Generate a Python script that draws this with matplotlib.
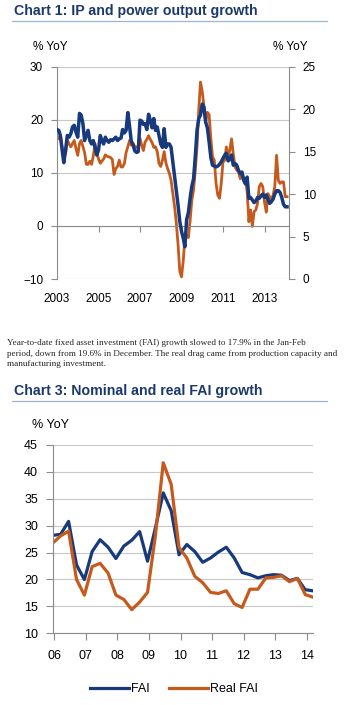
import matplotlib
matplotlib.use('Agg')
import matplotlib.pyplot as plt
import matplotlib.dates as mdates
from matplotlib.lines import Line2D
from datetime import datetime
import pandas as pd

plt.rcParams['font.family'] = 'Liberation Sans'

NAVY = '#1b3a6b'
BLUE = '#163a7d'
ORANGE = '#c55a1c'
GRID = '#c8c8c8'
AXIS = '#8c8c8c'

# Chart 1 - monthly % yoy, Jan 2003 .. Feb 2014
ip_growth = [  # right axis
    17.6, 17.5, 16.9, 15.2, 13.7, 15.2, 16.9, 16.7, 17.1, 17.9, 18.1, 17.3,
    16.7, 19.5, 19.3, 18.3, 16.3, 16.9, 17.5, 16.3, 15.9, 16.3, 15.5, 14.6,
    15.2, 16.9, 16.3, 15.9, 16.7, 16.3, 16.1, 16.4, 16.3, 16.5, 16.7, 16.3,
    16.5, 16.6, 17.6, 17.2, 17.5, 19.6, 18.0, 16.2, 15.8, 15.1, 14.9, 15.0,
    18.7, 18.6, 18.2, 18.3, 17.6, 19.4, 18.7, 17.8, 18.9, 17.5, 17.9, 16.9,
    15.9, 15.5, 17.7, 15.5, 15.9, 15.9, 15.5, 13.8, 12.0, 10.5, 8.7, 6.8,
    5.6, 4.8, 3.8, 7.0, 7.8, 9.5, 10.9, 11.8, 14.5, 17.5, 18.9, 19.3,
    20.6, 20.2, 18.5, 17.8, 16.2, 14.3, 13.4, 13.3, 13.2, 13.3, 13.5, 13.8,
    14.2, 14.6, 14.8, 13.9, 14.1, 14.6, 13.4, 13.6, 13.4, 12.8, 12.4, 12.6,
    11.6, 11.2, 12.0, 9.5, 9.6, 9.3, 9.0, 9.2, 9.6, 9.5, 9.8, 10.0,
    9.6, 9.9, 9.4, 8.9, 9.1, 9.4, 10.0, 10.4, 10.4, 10.2, 9.6, 8.8,
    8.5, 8.5,
]
power_growth = [  # left axis
    16.75, 16.4, 17.1, 14.9, 13.0, 13.6, 16.1, 15.5, 14.9, 15.5, 16.1, 14.6,
    13.3, 15.5, 16.1, 15.0, 13.8, 11.6, 11.6, 12.2, 11.6, 13.2, 15.5, 13.8,
    12.6, 11.8, 12.2, 12.6, 13.4, 13.1, 13.0, 12.9, 12.5, 9.7, 10.8, 11.2,
    12.4, 11.1, 11.1, 11.75, 13.8, 14.9, 16.1, 15.2, 15.6, 14.9, 14.9, 14.6,
    16.5, 15.2, 14.2, 15.8, 16.3, 17.0, 16.3, 15.7, 14.8, 14.9, 14.0, 11.8,
    11.2, 12.4, 14.0, 11.9, 10.8, 9.9, 8.6, 6.1, 3.6, 0.6, -3.5, -8.5,
    -9.6, -6.5, -2.2, -1.8, -2.2, 1.0, 4.8, 6.8, 10.5, 15.0, 22.0, 27.1,
    25.3, 22.4, 19.5, 21.4, 21.0, 16.5, 13.0, 12.4, 8.0, 5.8, 5.2, 8.0,
    12.0, 12.4, 14.9, 13.0, 14.3, 16.4, 13.6, 11.1, 10.5, 10.2, 8.9, 9.9,
    8.9, 8.6, 6.5, 0.8, 3.0, -0.1, 2.7, 3.0, 4.3, 7.4, 8.0, 7.4,
    4.5, 2.6, 6.1, 5.5, 4.9, 5.8, 7.4, 13.3, 8.6, 8.0, 8.3, 8.3,
    5.5, 5.5,
]
months = pd.date_range('2003-01-01', periods=len(ip_growth), freq='MS')

# Chart 3 - quarterly % yoy
fai_growth = [
    28.2, 28.4, 30.8, 22.7, 20.0, 25.2, 27.4, 26.0, 23.9, 26.2, 27.3, 28.9,
    23.4, 29.5, 36.1, 32.8, 24.6, 26.5, 25.2, 23.2, 24.0, 25.1, 26.0, 24.0,
    21.3, 20.9, 20.3, 20.7, 20.9, 20.8, 19.8, 20.2, 18.1, 17.9,
]
real_fai_growth = [
    26.8, 28.1, 29.0, 20.0, 17.1, 22.4, 23.0, 21.2, 17.1, 16.3, 14.4, 15.8,
    17.6, 28.0, 41.7, 37.7, 25.9, 24.0, 20.6, 19.4, 17.6, 17.4, 17.9, 15.5,
    14.8, 18.2, 18.2, 20.3, 20.4, 20.7, 19.6, 20.2, 17.2, 16.7,
]
quarters = pd.date_range('2005-12-15', periods=len(fai_growth),
                         freq=pd.DateOffset(months=3))

fig = plt.figure(figsize=(3.49, 7.05), dpi=100)
W, H = 349.0, 705.0


def fx(px):
    return px / W


def fy(py):
    return 1 - py / H


def header(text, base_y, line_y):
    fig.text(fx(14), fy(base_y), text, fontsize=10.2, fontweight='bold',
             color=NAVY, va='baseline')
    fig.add_artist(Line2D([fx(12), fx(327)], [fy(line_y)] * 2,
                          color='#9fb4cf', lw=0.9))


def style_spine(ax, sides):
    for s in ['top', 'bottom', 'left', 'right']:
        ax.spines[s].set_visible(s in sides)
        ax.spines[s].set_color(AXIS)
        ax.spines[s].set_linewidth(0.8)


# ---------------- chart 1 ----------------
header('Chart 1: IP and power output growth', 15, 20.5)
fig.text(fx(33), fy(50), '% YoY', fontsize=8.5, va='baseline')
fig.text(fx(273), fy(50), '% YoY', fontsize=8.5, va='baseline')

ax1 = fig.add_axes([fx(57), fy(279), 232 / W, 212.3 / H])
ax1.plot(months, power_growth, color=ORANGE, lw=2.0, solid_joinstyle='round')
ax1.set_ylim(-10, 30)
ax1.set_yticks(range(-10, 31, 10))
ax1.set_xlim(datetime(2003, 1, 1), datetime(2014, 3, 8))
ax1.grid(axis='y', color=GRID, lw=0.8)
ax1.set_axisbelow(True)
style_spine(ax1, ['left', 'bottom'])
ax1.spines['bottom'].set_position(('data', 0))
year_ticks = [datetime(y, 1, 1) for y in range(2003, 2014, 2)]
ax1.set_xticks(year_ticks)
ax1.tick_params(axis='x', length=4, color=AXIS, labelbottom=False)
ax1.tick_params(axis='y', length=4, color=AXIS, pad=6, labelsize=8.5)

lab = ax1.secondary_xaxis(0.0)
lab.set_xticks(year_ticks)
lab.xaxis.set_major_formatter(mdates.DateFormatter('%Y'))
lab.tick_params(length=0, pad=10, labelsize=8.5)
lab.spines['bottom'].set_visible(False)

ax2 = ax1.twinx()
ax2.plot(months, ip_growth, color=BLUE, lw=2.5, solid_joinstyle='round')
ax2.set_ylim(0, 25)
ax2.set_yticks(range(0, 26, 5))
style_spine(ax2, ['right'])
ax2.tick_params(axis='y', length=4, color=AXIS, pad=6, labelsize=8.5)

# ---------------- commentary ----------------
note = [
    'Year-to-date fixed asset investment (FAI) growth slowed to 17.9% in the Jan-Feb',
    'period, down from 19.6% in December. The real drag came from production capacity and',
    'manufacturing investment.',
]
for i, line in enumerate(note):
    fig.text(fx(7), fy(345 + 10.6 * i), line, fontsize=6.55,
             family='Liberation Serif', color='#222222', va='baseline')

# ---------------- chart 3 ----------------
header('Chart 3: Nominal and real FAI growth', 395, 400.7)
fig.text(fx(31.5), fy(428), '% YoY', fontsize=9, va='baseline')

ax3 = fig.add_axes([fx(53.3), fy(633.3), 259.7 / W, 188.3 / H])
ax3.plot(quarters, fai_growth, color=BLUE, lw=2.3, label='FAI',
         solid_joinstyle='round')
ax3.plot(quarters, real_fai_growth, color=ORANGE, lw=2.3, label='Real FAI',
         solid_joinstyle='round')
ax3.set_ylim(10, 45)
ax3.set_yticks(range(10, 46, 5))
ax3.set_xlim(datetime(2005, 12, 20), datetime(2014, 3, 15))
ax3.xaxis.set_major_locator(mdates.YearLocator())
ax3.xaxis.set_major_formatter(mdates.DateFormatter('%y'))
ax3.grid(axis='y', color=GRID, lw=0.8)
ax3.set_axisbelow(True)
style_spine(ax3, ['left', 'bottom'])
ax3.tick_params(axis='both', length=5, color=AXIS, labelsize=9)
ax3.tick_params(axis='y', pad=6)
ax3.tick_params(axis='x', pad=7)

fig.legend(handles=ax3.get_lines(), loc='center', bbox_to_anchor=(fx(174), fy(689)),
           ncol=2, frameon=False, fontsize=9, handlelength=3.1,
           handletextpad=0.15, columnspacing=1.6)

fig.savefig('out.png', dpi=100)
